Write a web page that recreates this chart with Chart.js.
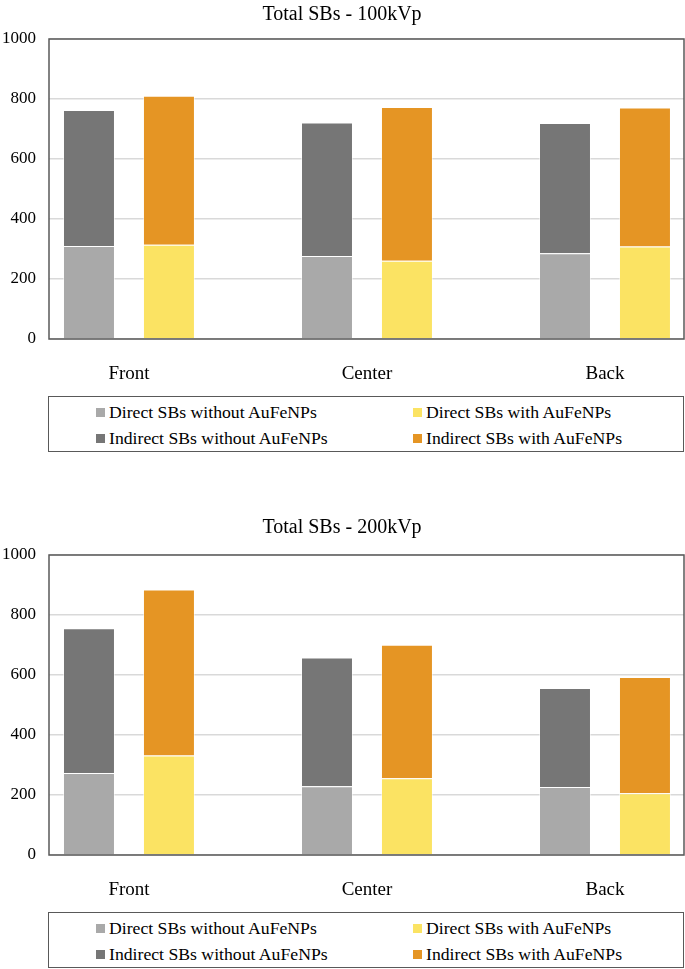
<!DOCTYPE html>
<html>
<head>
<meta charset="utf-8">
<script src="https://cdn.jsdelivr.net/npm/chart.js@4.4.1/dist/chart.umd.min.js"></script>
<style>
  body { margin: 0; background: #fff; font-family: "Liberation Serif", "Times New Roman", serif; }
  .panel { position: absolute; left: 0; width: 685px; height: 460px; }
  .panel canvas { position: absolute; left: 0; top: 0; }
  .legend {
    position: absolute; left: 48px; top: 396px; width: 636px; height: 56px;
    border: 1px solid #595959; box-sizing: border-box;
    display: grid; grid-template-rows: 26px 26px; grid-template-columns: 317px 300px;
    grid-auto-flow: column; padding: 2px 0 0 47px;
    font-size: 17.7px; color: #000;
  }
  .legend span { display: flex; align-items: center; white-space: nowrap; }
  .legend i { display: inline-block; width: 9px; height: 9px; margin-right: 4px; }
</style>
</head>
<body>
<div class="panel" style="top:0">
  <canvas id="chart100" width="685" height="390"></canvas>
  <div class="legend" id="legend100"></div>
</div>
<div class="panel" style="top:516px">
  <canvas id="chart200" width="685" height="390"></canvas>
  <div class="legend" id="legend200"></div>
</div>
<script>
const categories = ['Front', 'Center', 'Back'];
const seriesLabels = [
  'Direct SBs without AuFeNPs',
  'Indirect SBs without AuFeNPs',
  'Direct SBs with AuFeNPs',
  'Indirect SBs with AuFeNPs'
];
const colors = ['#a9a9a9', '#767676', '#fbe363', '#e59524'];

// 100kVp
const direct100Without = [310, 277, 286];
const indirect100Without = [453, 445, 434];
const direct100With = [314, 261, 308];
const indirect100With = [497, 512, 464];

// 200kVp
const direct200Without = [273, 229, 227];
const indirect200Without = [483, 429, 330];
const direct200With = [332, 256, 206];
const indirect200With = [553, 445, 387];

const FONT = '"Liberation Serif", "Times New Roman", serif';

// borde del area de trazado, como en Excel
const frame = {
  id: 'frame',
  afterDraw(chart) {
    const a = chart.chartArea, c = chart.ctx;
    c.save();
    c.strokeStyle = '#595959';
    c.lineWidth = 1.5;
    c.strokeRect(a.left, a.top, a.right - a.left, a.bottom - a.top);
    c.restore();
  }
};

function makeChart(canvasId, legendId, titleText, titleTop, series) {
  const datasets = series.map((vals, i) => ({
    label: seriesLabels[i],
    data: vals,
    backgroundColor: colors[i],
    borderColor: 'rgba(255,255,255,0.5)',
    borderWidth: 1,
    stack: i < 2 ? 'without' : 'with',
    categoryPercentage: 0.672,
    barPercentage: 0.65
  }));

  const chart = new Chart(document.getElementById(canvasId), {
    type: 'bar',
    data: { labels: categories.map((c, i) => i), datasets: datasets },
    options: {
      responsive: false,
      animation: false,
      devicePixelRatio: 1,
      layout: { padding: { right: 1 } },
      plugins: {
        legend: { display: false },
        tooltip: { enabled: false },
        title: {
          display: true,
          text: titleText,
          color: '#000',
          font: { family: FONT, size: 20, weight: 'normal' },
          padding: { top: titleTop, bottom: 15 - titleTop }
        }
      },
      scales: {
        x: {
          type: 'linear',
          stacked: true,
          offset: false,
          bounds: 'data',
          min: -0.336,
          max: 2.332,
          grid: { display: false },
          border: { display: false },
          afterBuildTicks: s => { s.ticks = categories.map((c, i) => ({ value: i })); },
          afterFit: s => { s.height = 51; },
          ticks: {
            autoSkip: false,
            maxRotation: 0,
            padding: 16,
            color: '#000',
            font: { family: FONT, size: 19 },
            callback: v => categories[v]
          }
        },
        y: {
          stacked: true,
          min: 0,
          max: 1000,
          grid: { color: '#d9d9d9', lineWidth: 1.5, drawTicks: false },
          border: { display: false },
          afterFit: s => { s.width = 49; },
          ticks: {
            stepSize: 200,
            padding: 13,
            color: '#000',
            font: { family: FONT, size: 17 },
            callback: v => String(v)
          }
        }
      }
    },
    plugins: [frame]
  });

  // leyenda en html, 2 columnas
  const leg = document.getElementById(legendId);
  chart.data.datasets.forEach(ds => {
    const item = document.createElement('span');
    item.innerHTML = '<i style="background:' + ds.backgroundColor + '"></i>' + ds.label;
    leg.appendChild(item);
  });
  return chart;
}

makeChart('chart100', 'legend100', 'Total SBs - 100kVp', 3,
  [direct100Without, indirect100Without, direct100With, indirect100With]);
makeChart('chart200', 'legend200', 'Total SBs - 200kVp', 0,
  [direct200Without, indirect200Without, direct200With, indirect200With]);
</script>
</body>
</html>
